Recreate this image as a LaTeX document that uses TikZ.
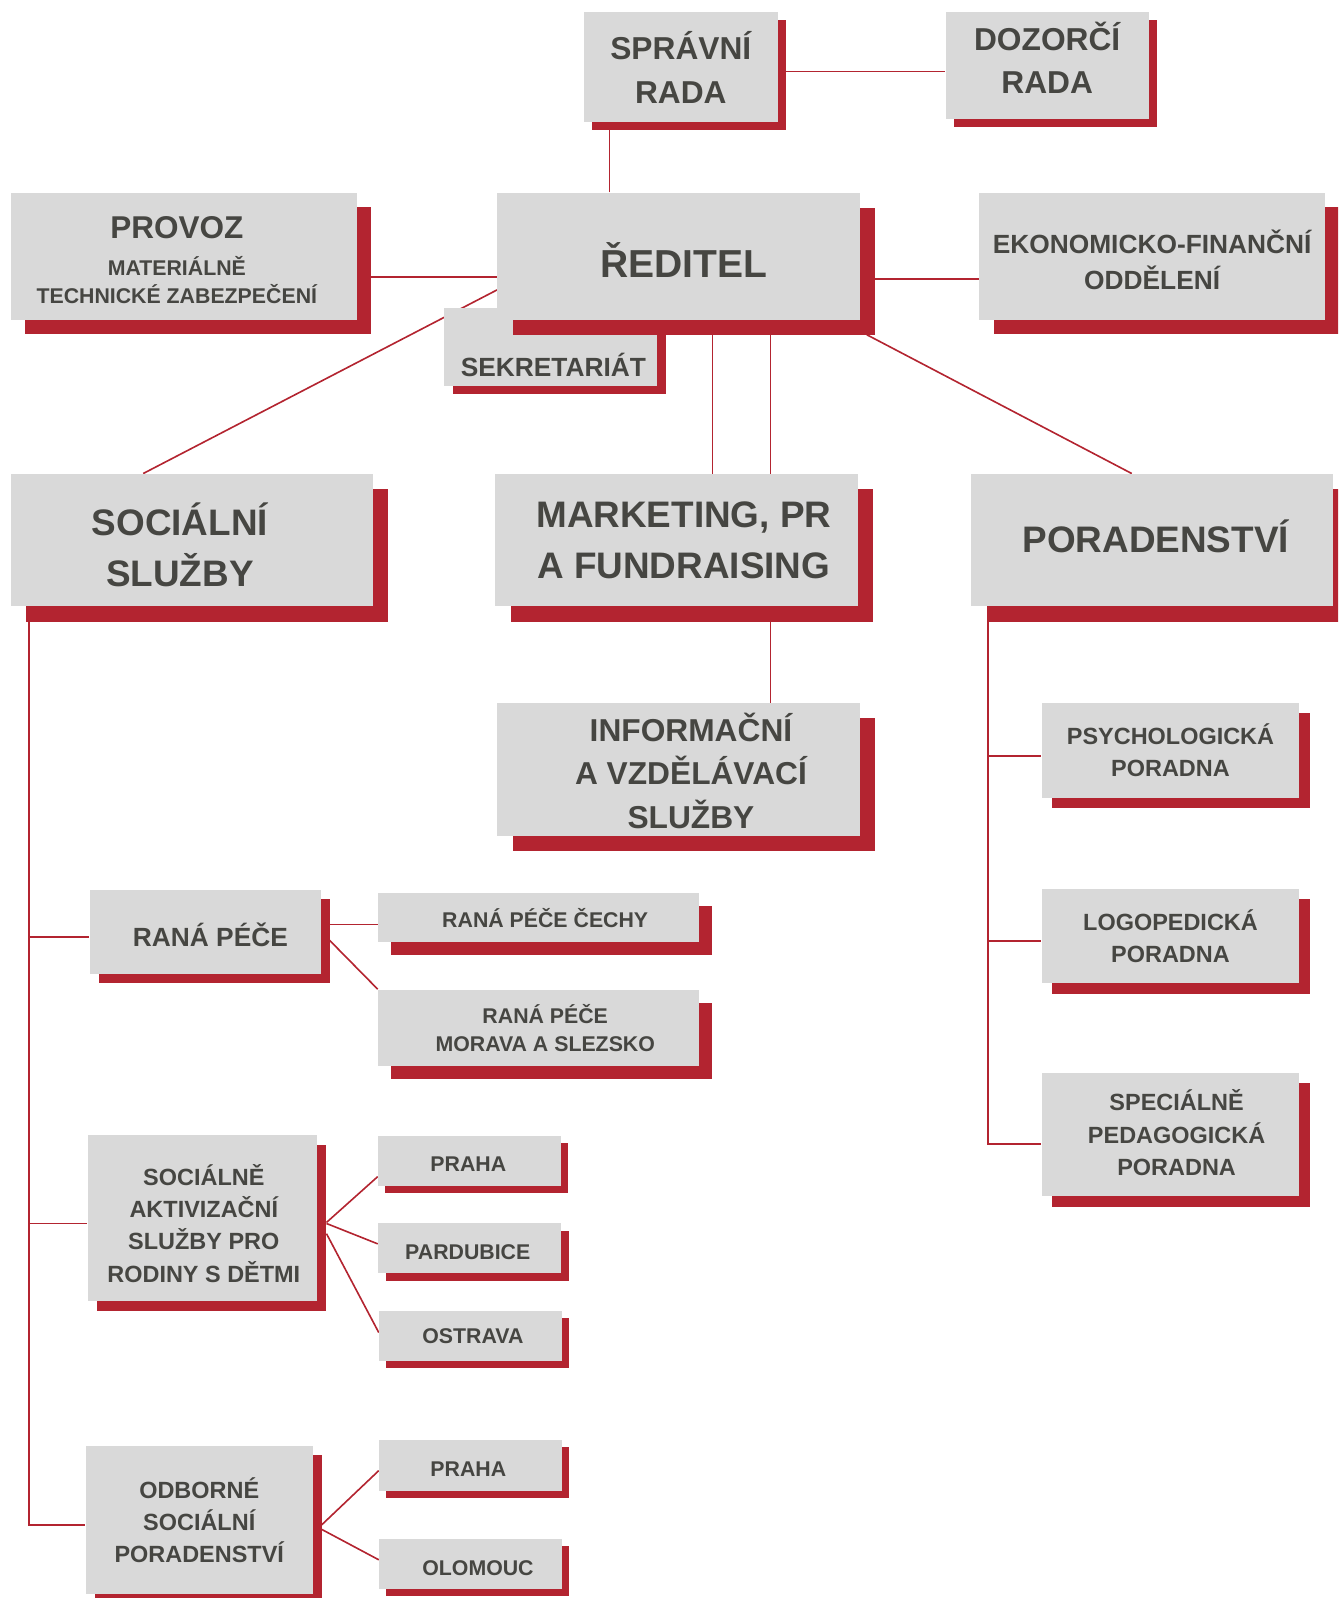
\documentclass[tikz,border=0pt]{standalone}
\usepackage{fontspec}
\setmainfont{Liberation Sans}
\usetikzlibrary{shadows,backgrounds}

\definecolor{boxgray}{HTML}{D9D9D9}
\definecolor{boxred}{HTML}{B32430}
\definecolor{textgray}{HTML}{464642}

\begin{document}
\begin{tikzpicture}
	[
	x=0.02cm, y=-0.02cm,
	%Voreinstellungen
	box/.style={fill=boxgray, inner sep=0pt},
	tx/.style={text=textgray, align=center, inner sep=0pt},
	sz/.style 2 args={minimum width=#1*0.02cm, minimum height=#2*0.02cm},
	shd/.style={drop shadow={shadow xshift=#1*0.02cm, shadow yshift=-#1*0.02cm, fill=boxred, opacity=1}},
	conn/.style={boxred, line width=0.9pt},
	fA/.style={font=\bfseries\fontsize{20.6}{28.7}\selectfont},
	fB/.style={font=\bfseries\fontsize{17.7}{24.3}\selectfont},
	fC/.style={font=\bfseries\fontsize{14.7}{19.9}\selectfont},
	fD/.style={font=\bfseries\fontsize{13.1}{18}\selectfont},
	fE/.style={font=\bfseries\fontsize{11.9}{15.9}\selectfont}
	]
	
	%Rahmen
	\useasboundingbox (0,0) rectangle (1313,1568);
	\clip (0,0) rectangle (1313,1568);
	
	%Správní rada
	\node[box, sz={190}{108}, shd=8] (sprava) at (668,66) {};
	\node[tx, fB] (sprava-t) at (668,66) {SPRÁVNÍ\\RADA};
	
	%Dozorčí rada
	\node[box, sz={199}{105}, shd=8] (dozor) at (1027.5,64.5) {};
	\node[tx, fB] (dozor-t) at (1027.5,56.5) {DOZORČÍ\\RADA};
	
	%Provoz
	\node[box, sz={339}{125}, shd=14] (provoz) at (180.5,251.5) {};
	\node[tx, fE] (provoz-t) at (173.5,255.5) {{\fontsize{17.6}{24}\selectfont PROVOZ}\\[4.5pt]MATERIÁLNĚ\\TECHNICKÉ ZABEZPEČENÍ};
	
	%Sekretariát (unter dem Ředitel)
	\node[box, sz={209}{77}, shd=8] (sekr) at (540.5,340.5) {};
	\node[tx, fC] (sekr-t) at (543,358) {SEKRETARIÁT};
	
	%Ředitel
	\node[box, sz={356}{125}, shd=15] (reditel) at (666,251.5) {};
	\node[tx, font=\bfseries\fontsize{21.8}{28}\selectfont] (reditel-t) at (671,255.5) {ŘEDITEL};
	
	%Ekonomicko-finanční oddělení
	\node[box, sz={339}{125}, shd=14] (ekon) at (1130.5,251.5) {};
	\node[tx, fC] (ekon-t) at (1130.5,255) {EKONOMICKO-FINANČNÍ\\ODDĚLENÍ};
	
	%Sociální služby
	\node[box, sz={355}{130}, shd=15] (soc) at (188.5,530) {};
	\node[tx, fA] (soc-t) at (176.5,534.5) {SOCIÁLNÍ\\SLUŽBY};
	
	%Marketing
	\node[box, sz={356}{130}, shd=15] (mark) at (664,530) {};
	\node[tx, fA] (mark-t) at (671,530) {MARKETING, PR\\A FUNDRAISING};
	
	%Poradenství
	\node[box, sz={355}{130}, shd=15] (porad) at (1130.5,530) {};
	\node[tx, fA] (porad-t) at (1134,526) {PORADENSTVÍ};
	
	%Informační a vzdělávací služby
	\node[box, sz={356}{130}, shd=15] (info) at (666,755) {};
	\node[tx, fB] (info-t) at (678,756) {INFORMAČNÍ\\A VZDĚLÁVACÍ\\SLUŽBY};
	
	%Raná péče
	\node[box, sz={227}{83}, shd=9] (rana) at (201.5,914.5) {};
	\node[tx, fC] (rana-t) at (206.5,917.5) {RANÁ PÉČE};
	\node[box, sz={315}{48}, shd=13] (cechy) at (528.5,900) {};
	\node[tx, fE] (cechy-t) at (535,901) {RANÁ PÉČE ČECHY};
	\node[box, sz={315}{75}, shd=13] (morava) at (528.5,1008.5) {};
	\node[tx, fE] (morava-t) at (535,1008.5) {RANÁ PÉČE\\MORAVA A SLEZSKO};
	
	%Sociálně aktivizační služby
	\node[box, sz={225}{163}, shd=9] (sak) at (198.5,1195.5) {};
	\node[tx, fD] (sak-t) at (200,1200.5) {SOCIÁLNĚ\\AKTIVIZAČNÍ\\SLUŽBY PRO\\RODINY S DĚTMI};
	\node[box, sz={179}{49}, shd=7] (sak-praha) at (460.5,1139.5) {};
	\node[tx, fE] (sak-praha-t) at (459.5,1142.5) {PRAHA};
	\node[box, sz={179}{49}, shd=8] (sak-pard) at (460.5,1224.5) {};
	\node[tx, fE] (sak-pard-t) at (459,1228.5) {PARDUBICE};
	\node[box, sz={179}{49}, shd=7] (sak-ostr) at (461.5,1310.5) {};
	\node[tx, fE] (sak-ostr-t) at (464,1311.5) {OSTRAVA};
	
	%Odborné sociální poradenství
	\node[box, sz={223}{145}, shd=9] (odb) at (195.5,1491.5) {};
	\node[tx, fD] (odb-t) at (195.5,1491.5) {ODBORNÉ\\SOCIÁLNÍ\\PORADENSTVÍ};
	\node[box, sz={179}{50}, shd=7] (odb-praha) at (461.5,1438) {};
	\node[tx, fE] (odb-praha-t) at (459.5,1442) {PRAHA};
	\node[box, sz={179}{49}, shd=7] (odb-olom) at (461.5,1534.5) {};
	\node[tx, fE] (odb-olom-t) at (469,1538.5) {OLOMOUC};
	
	%Poradny
	\node[box, sz={253}{93}, shd=10] (psych) at (1148.5,736.5) {};
	\node[tx, fD] (psych-t) at (1148.5,736.5) {PSYCHOLOGICKÁ\\PORADNA};
	\node[box, sz={253}{93}, shd=10] (logo) at (1148.5,918.5) {};
	\node[tx, fD] (logo-t) at (1148.5,918.5) {LOGOPEDICKÁ\\PORADNA};
	\node[box, sz={253}{121}, shd=10] (spec) at (1148.5,1113.5) {};
	\node[tx, fD] (spec-t) at (1154.5,1111.5) {SPECIÁLNĚ\\PEDAGOGICKÁ\\PORADNA};
	
	\begin{pgfonlayer}{background}
	%Správní rada - Dozorčí rada
	\coordinate (c1) at ([shift={(0,4)}]sprava.east);
	\draw[conn] (c1) -- (c1 -| dozor.west);
	
	%Správní rada - Ředitel
	\coordinate (c2) at ([shift={(-68,0)}]reditel.north);
	\draw[conn] (c2) -- (c2 |- sprava.south);
	
	%Provoz - Ředitel - Ekonomicko-finanční
	\coordinate (c3) at ([shift={(0,20)}]provoz.east);
	\draw[conn] (c3) -- (c3 -| reditel.west);
	\coordinate (c4) at ([shift={(0,22)}]reditel.east);
	\draw[conn] (c4) -- (c4 -| ekon.west);
	
	%Ředitel - Sociální služby
	\draw[conn] ([shift={(0,33)}]reditel.west) -- ([shift={(-48,0)}]soc.north);
	
	%Ředitel - Marketing - Informační
	\coordinate (c5) at ([shift={(33,0)}]reditel.south);
	\draw[conn] (c5) -- (c5 |- mark.north);
	\coordinate (c6) at ([shift={(90,0)}]reditel.south);
	\draw[conn] (c6) -- (c6 |- mark.north);
	\draw[conn] (c6 |- mark.south) -- (c6 |- info.north);
	
	%Ředitel - Poradenství
	\draw[conn] ([shift={(6,14)}]reditel.south east) -- ([shift={(-20,0)}]porad.north);
	
	%Linie links
	\coordinate (lt) at ([shift={(18,0)}]soc.south west);
	\draw[conn] (lt) |- ([shift={(0,5)}]odb.west);
	\draw[conn] (lt) |- ([shift={(0,5)}]rana.west);
	\draw[conn] (lt) |- ([shift={(0,5)}]sak.west);
	
	%Raná péče
	\coordinate (c7) at ([shift={(0,7)}]cechy.west);
	\draw[conn] (c7 -| rana.east) -- (c7);
	\draw[conn] (rana.east) -- (morava.north west);
	
	%Sociálně aktivizační služby
	\draw[conn] ([shift={(9,4)}]sak.east) -- ([shift={(0,15)}]sak-praha.west);
	\draw[conn] ([shift={(9,5)}]sak.east) -- ([shift={(0,-4)}]sak-pard.west);
	\draw[conn] ([shift={(9,15)}]sak.east) -- ([shift={(0,-3)}]sak-ostr.west);
	
	%Odborné sociální poradenství
	\draw[conn] ([shift={(8,5)}]odb.east) -- ([shift={(0,5)}]odb-praha.west);
	\draw[conn] ([shift={(8,9)}]odb.east) -- ([shift={(0,-4)}]odb-olom.west);
	
	%Linie rechts
	\coordinate (rt) at ([shift={(17,0)}]porad.south west);
	\draw[conn] (rt) |- ([shift={(0,9)}]spec.west);
	\draw[conn] (rt) |- ([shift={(0,5)}]psych.west);
	\draw[conn] (rt) |- ([shift={(0,5)}]logo.west);
	\end{pgfonlayer}
	
\end{tikzpicture}
\end{document}
